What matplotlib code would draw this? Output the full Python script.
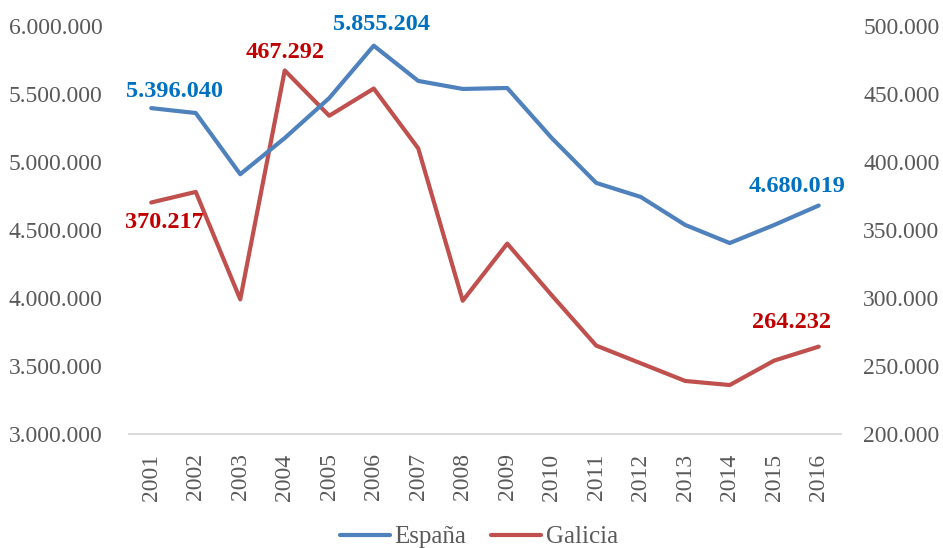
import matplotlib.pyplot as plt
from matplotlib.ticker import FuncFormatter

years = [str(y) for y in range(2001, 2017)]
espana = [5396040, 5360000, 4910000, 5176000, 5470000, 5855204, 5596000, 5537000,
          5544000, 5176000, 4846000, 4743000, 4537000, 4404000, 4537000, 4680019]
galicia = [370217, 378000, 299000, 467292, 434000, 454000, 410000, 298000,
           340000, 302000, 265000, 252000, 239000, 236000, 254000, 264232]

blue = '#4F81BD'
red = '#C0504D'
grey = '#595959'
plt.rcParams['font.family'] = ['Liberation Serif', 'DejaVu Serif']


def miles(v, pos):
    return f'{int(v):,}'.replace(',', '.')


fig = plt.figure(figsize=(9.43, 5.48), dpi=100)
ax = fig.add_axes([0.1368, 0.208, 0.755, 0.7446])
ax2 = ax.twinx()

x = range(len(years))
l1, = ax.plot(x, espana, color=blue, lw=3, label='España', solid_capstyle='round')
l2, = ax2.plot(x, galicia, color=red, lw=3, label='Galicia', solid_capstyle='round')
ax2.set_zorder(ax.get_zorder() - 1)
ax.patch.set_visible(False)

ax.set_xlim(-0.5, len(years) - 0.5)
ax.set_ylim(3000000, 6000000)
ax2.set_ylim(200000, 500000)
ax.set_yticks(range(3000000, 6000001, 500000))
ax2.set_yticks(range(200000, 500001, 50000))
ax.yaxis.set_major_formatter(FuncFormatter(miles))
ax2.yaxis.set_major_formatter(FuncFormatter(miles))
ax.set_xticks(list(x))
ax.set_xticklabels(years, rotation=90)

for a in (ax, ax2):
    for s in ('top', 'left', 'right'):
        a.spines[s].set_visible(False)
    a.spines['bottom'].set_color('#D9D9D9')
    a.spines['bottom'].set_linewidth(1.2)
    a.tick_params(length=0, labelsize=17, labelcolor=grey)
ax.tick_params(axis='y', pad=19)
ax2.tick_params(axis='y', pad=16)
ax.tick_params(axis='x', pad=14)

lab_blue = '#0070C0'
lab_red = '#C00000'
lbl = dict(fontsize=17.5, fontweight='bold', ha='center', va='center',
           textcoords='offset pixels')
ax.annotate(miles(espana[0], 0), (0, espana[0]), xytext=(23, 17), color=lab_blue, **lbl)
ax.annotate(miles(espana[5], 0), (5, espana[5]), xytext=(8, 21), color=lab_blue, **lbl)
ax.annotate(miles(espana[15], 0), (15, espana[15]), xytext=(-22, 19), color=lab_blue, **lbl)
ax2.annotate(miles(galicia[0], 0), (0, galicia[0]), xytext=(13, -20), color=lab_red, **lbl)
ax2.annotate(miles(galicia[3], 0), (3, galicia[3]), xytext=(0, 18), color=lab_red, **lbl)
ax2.annotate(miles(galicia[15], 0), (15, galicia[15]), xytext=(-27, 24), color=lab_red, **lbl)

fig.legend(handles=[l1, l2], loc='center', bbox_to_anchor=(0.508, 0.02),
           ncol=2, frameon=False, fontsize=18, handlelength=2.0,
           handletextpad=0.2, columnspacing=1.0, labelcolor=grey)

fig.savefig('out.png', dpi=100)
